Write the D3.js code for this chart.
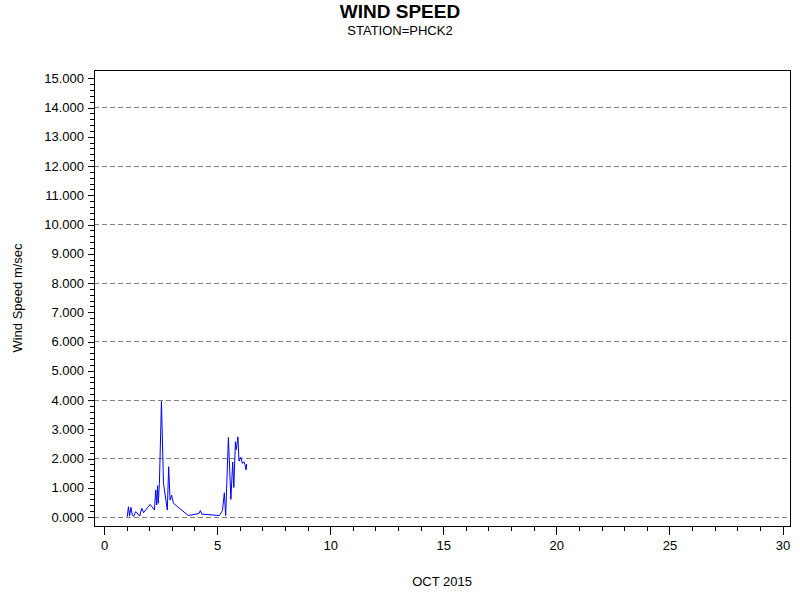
<!DOCTYPE html>
<html>
<head>
<meta charset="utf-8">
<script src="https://cdn.jsdelivr.net/npm/d3@7"></script>
<style>
body { margin: 0; background: #fff; }
svg { display: block; font-family: "Liberation Sans", Arial, sans-serif; }
</style>
</head>
<body>
<svg id="chart" width="800" height="600"></svg>
<script>
// Day of month (Oct 2015) and wind speed (m/sec)
const days = [1.03, 1.08, 1.13, 1.19, 1.25, 1.31, 1.40, 1.58, 1.67, 1.75, 2.04, 2.23, 2.29, 2.33, 2.37, 2.40, 2.45, 2.54, 2.63, 2.80, 2.86, 2.92, 2.99, 3.07, 3.73, 4.20, 4.26, 4.32, 5.10, 5.24, 5.32, 5.38, 5.50, 5.61, 5.69, 5.74, 5.81, 5.85, 5.92, 5.97, 6.05, 6.12, 6.19, 6.24, 6.28, 6.31];
const speeds = [0.01, 0.35, 0.03, 0.33, 0.07, 0.02, 0.18, 0.03, 0.30, 0.15, 0.43, 0.24, 0.92, 0.41, 1.07, 0.47, 1.15, 3.96, 1.15, 0.24, 1.72, 0.58, 0.75, 0.47, 0.05, 0.12, 0.22, 0.10, 0.05, 0.22, 0.83, 0.05, 2.72, 0.60, 1.88, 1.01, 2.57, 2.30, 2.74, 1.91, 2.04, 1.83, 1.89, 1.78, 1.61, 1.81];
const xTicks = [0, 5, 10, 15, 20, 25, 30];
const yTicks = [0, 1, 2, 3, 4, 5, 6, 7, 8, 9, 10, 11, 12, 13, 14, 15];
const gridValues = [0, 2, 4, 6, 8, 10, 12, 14];
const title = "WIND SPEED";
const subtitle = "STATION=PHCK2";
const xLabel = "OCT 2015";
const yLabel = "Wind Speed m/sec";

const svg = d3.select("#chart");
const frame = { left: 94, right: 790, top: 70, bottom: 526 };

const x = d3.scaleLinear().domain([0, 30]).range([104, 782.5]);
const y = d3.scaleLinear().domain([0, 15]).range([517, 78.3]);

// titles
svg.append("text").attr("x", 400).attr("y", 18).attr("text-anchor", "middle")
  .attr("font-size", 19).attr("font-weight", "bold").text(title);
svg.append("text").attr("x", 400).attr("y", 35).attr("text-anchor", "middle")
  .attr("font-size", 13).text(subtitle);

// gridlines
svg.append("g").selectAll("line").data(gridValues).join("line")
  .attr("x1", frame.left).attr("x2", frame.right)
  .attr("y1", d => y(d)).attr("y2", d => y(d))
  .attr("stroke", "#808080").attr("stroke-dasharray", "5,3").attr("stroke-width", 1)
  .attr("shape-rendering", "crispEdges");

// frame
svg.append("path")
  .attr("d", `M${frame.left},${frame.top}H${frame.right}V${frame.bottom}H${frame.left}Z`)
  .attr("fill", "none").attr("stroke", "#000").attr("stroke-width", 1)
  .attr("shape-rendering", "crispEdges");

// y axis
const yAxis = d3.axisLeft(y).tickValues(yTicks).tickFormat(d3.format(".3f")).tickSize(6).tickPadding(4);
const yMinor = d3.axisLeft(y).tickValues(d3.range(0, 15.001, 0.2)).tickFormat("").tickSize(4);
const gyMinor = svg.append("g").attr("transform", `translate(${frame.left},0)`).call(yMinor);
const gy = svg.append("g").attr("transform", `translate(${frame.left},0)`).call(yAxis);
[gy, gyMinor].forEach(g => {
  g.select(".domain").remove();
  g.selectAll("line").attr("stroke", "#000").attr("shape-rendering", "crispEdges");
});
gy.selectAll("text").attr("font-size", 13).attr("fill", "#000")
  .attr("font-family", "Liberation Sans, Arial, sans-serif");

// x axis
const xAxis = d3.axisBottom(x).tickValues(xTicks).tickSize(9).tickPadding(6);
const xMinor = d3.axisBottom(x).tickValues(d3.range(0, 31, 1)).tickFormat("").tickSize(5);
const gxMinor = svg.append("g").attr("transform", `translate(0,${frame.bottom})`).call(xMinor);
const gx = svg.append("g").attr("transform", `translate(0,${frame.bottom})`).call(xAxis);
[gx, gxMinor].forEach(g => {
  g.select(".domain").remove();
  g.selectAll("line").attr("stroke", "#000").attr("shape-rendering", "crispEdges");
});
gx.selectAll("text").attr("font-size", 13).attr("fill", "#000")
  .attr("font-family", "Liberation Sans, Arial, sans-serif");

// axis labels
svg.append("text").attr("x", (frame.left + frame.right) / 2).attr("y", 586)
  .attr("text-anchor", "middle").attr("font-size", 13).text(xLabel);
svg.append("text").attr("transform", "translate(22,298) rotate(-90)")
  .attr("text-anchor", "middle").attr("font-size", 13).text(yLabel);

// data line
const data = days.map((d, i) => ({ d, v: speeds[i] }));
svg.append("path").datum(data)
  .attr("d", d3.line().x(p => x(p.d)).y(p => y(p.v)))
  .attr("fill", "none").attr("stroke", "#0000ff").attr("stroke-width", 1);
</script>
</body>
</html>
